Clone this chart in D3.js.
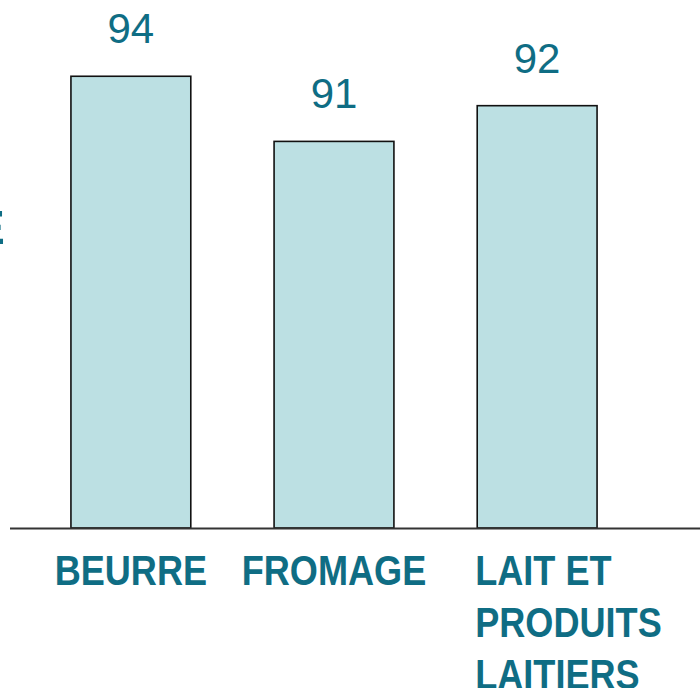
<!DOCTYPE html>
<html>
<head>
<meta charset="utf-8">
<script src="https://cdn.jsdelivr.net/npm/d3@7"></script>
<style>
  html, body { margin: 0; padding: 0; background: #fff; overflow: hidden; }
</style>
</head>
<body>
<div id="chart"></div>
<script>
// ---- data ----
const categories = ["BEURRE", "FROMAGE", "LAIT ET PRODUITS LAITIERS"];
const labelLines = [["BEURRE"], ["FROMAGE"], ["LAIT ET", "PRODUITS", "LAITIERS"]];
const values = [93.8, 90.7, 92.4];
const yDomain = [72.3, 100];

const W = 700, H = 688;
const baseY = 528;
const teal = "#0f6d84";

const svg = d3.select("#chart").append("svg")
  .attr("width", W)
  .attr("height", H);

const x = d3.scaleBand()
  .domain(categories)
  .range([10, 658])
  .paddingInner(0.41)
  .paddingOuter(0.3);

const y = d3.scaleLinear()
  .domain(yDomain)
  .range([baseY, -54]);

// cut-off axis title on the left
svg.append("text")
  .attr("x", 5)
  .attr("y", 244)
  .attr("text-anchor", "end")
  .attr("font-family", "Liberation Sans, Arial, sans-serif")
  .attr("font-weight", "bold")
  .attr("font-size", 49)
  .attr("fill", teal)
  .text("E");

// bars
svg.selectAll(".bar")
  .data(values)
  .join("rect")
  .attr("class", "bar")
  .attr("x", (d, i) => x(categories[i]))
  .attr("y", d => y(d))
  .attr("width", x.bandwidth())
  .attr("height", d => baseY - y(d))
  .attr("fill", "#bce0e3")
  .attr("stroke", "#111")
  .attr("stroke-width", 1.6);

// baseline
svg.append("line")
  .attr("x1", 10)
  .attr("x2", W)
  .attr("y1", baseY + 0.5)
  .attr("y2", baseY + 0.5)
  .attr("stroke", "#333")
  .attr("stroke-width", 2);

// value labels
svg.selectAll(".val")
  .data(values)
  .join("text")
  .attr("class", "val")
  .attr("x", (d, i) => x(categories[i]) + x.bandwidth() / 2)
  .attr("y", d => y(d) - 33)
  .attr("text-anchor", "middle")
  .attr("font-family", "Liberation Sans, Arial, sans-serif")
  .attr("font-size", 42)
  .attr("fill", teal)
  .text(d => d3.format(".0f")(d));

// category labels (squeezed horizontally to mimic the condensed face)
const catG = svg.selectAll(".cat")
  .data(categories)
  .join("text")
  .attr("class", "cat")
  .attr("font-family", "Liberation Sans, Arial, sans-serif")
  .attr("font-weight", "bold")
  .attr("font-size", 43)
  .attr("fill", teal)
  .attr("text-anchor", (d, i) => labelLines[i].length > 1 ? "start" : "middle")
  .attr("transform", (d, i) => {
    const cx = labelLines[i].length > 1 ? x(d) - 2 : x(d) + x.bandwidth() / 2;
    return `translate(${cx},585) scale(0.84,1)`;
  });

catG.selectAll("tspan")
  .data((d, i) => labelLines[i])
  .join("tspan")
  .attr("x", 0)
  .attr("dy", (d, j) => j === 0 ? 0 : 52)
  .text(d => d);
</script>
</body>
</html>
